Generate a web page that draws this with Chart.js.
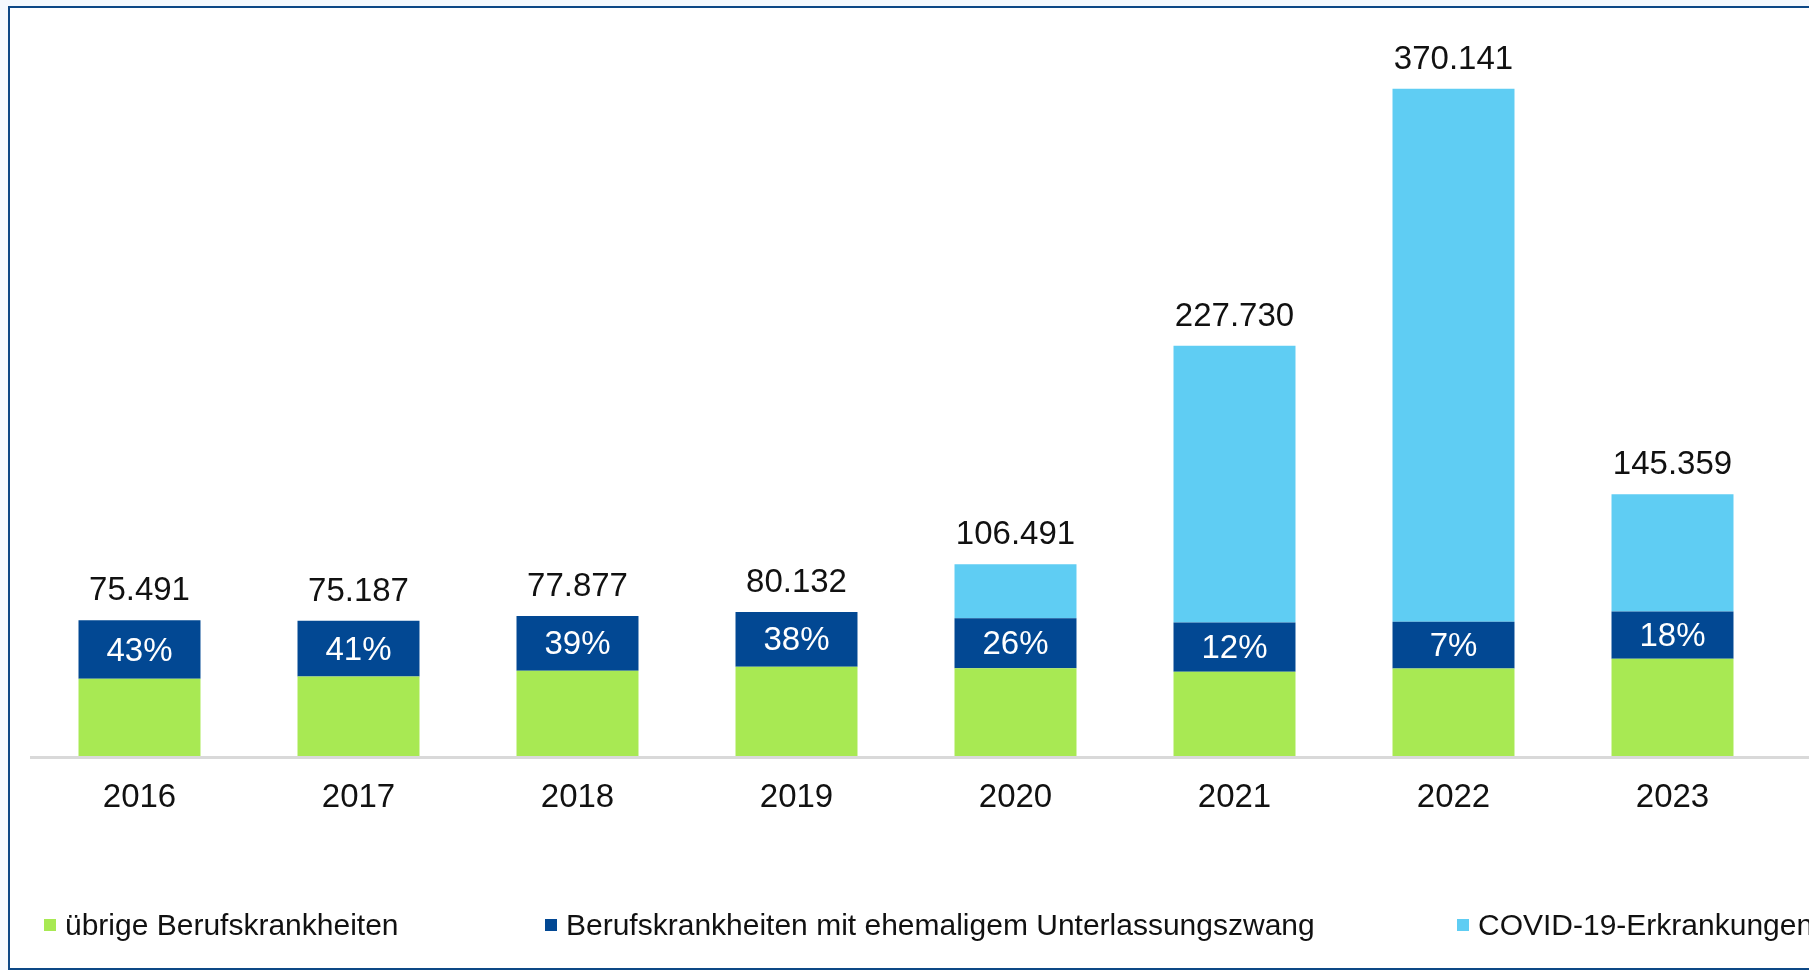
<!DOCTYPE html>
<html lang="de">
<head>
<meta charset="utf-8">
<title>Berufskrankheiten 2016-2023</title>
<script src="https://cdn.jsdelivr.net/npm/chart.js@4.4.1/dist/chart.umd.min.js"></script>
<style>
  html, body { margin: 0; padding: 0; }
  body { width: 1809px; height: 970px; overflow: hidden; background: #f4f9fe; position: relative;
         font-family: "Liberation Sans", Arial, sans-serif; }
  .frame { position: absolute; left: 8px; top: 6px; width: 1900px; height: 960px;
           border: 2px solid #0d4886; border-right: none; background: #fff; }
  #myChart { position: absolute; left: 0; top: 0; }
  .legend-item { position: absolute; top: 906px; font-size: 30px; color: #111; white-space: nowrap;
                 line-height: 38px; }
  .legend-item span.box { position: absolute; width: 12px; height: 12px; top: 13px; }
</style>
</head>
<body>
<div class="frame"></div>
<canvas id="myChart" width="1809" height="970"></canvas>
<div id="legend"></div>
<script>
// Data
const years = ['2016', '2017', '2018', '2019', '2020', '2021', '2022', '2023'];
const uebrige = [43030, 44360, 47505, 49682, 48930, 46930, 48760, 54130];
const ehemaligUZ = [32461, 30827, 30372, 30450, 27688, 27330, 25910, 26165];
const covid = [0, 0, 0, 0, 29873, 153470, 295471, 65064];

const seriesLabels = ['übrige Berufskrankheiten', 'Berufskrankheiten mit ehemaligem Unterlassungszwang', 'COVID-19-Erkrankungen'];
const colors = ['#a8e953', '#024893', '#5fcdf3'];
const legendX = [44, 545, 1457];

const fmt = n => String(n).replace(/\B(?=(\d{3})+(?!\d))/g, '.');

Chart.defaults.font.family = '"Liberation Sans", Arial, sans-serif';

// labels: totals above stacks, share of dark blue segment inside it
const labelPlugin = {
    id: 'stackLabels',
    afterDatasetsDraw(chart) {
        const ctx = chart.ctx;
        const metaTop = chart.getDatasetMeta(2);
        const metaMid = chart.getDatasetMeta(1);
        const yScale = chart.scales.y;
        ctx.save();
        ctx.font = '33px "Liberation Sans", Arial, sans-serif';
        ctx.textAlign = 'center';
        years.forEach((y, i) => {
            const total = uebrige[i] + ehemaligUZ[i] + covid[i];
            const x = metaTop.data[i].x;
            ctx.fillStyle = '#111';
            ctx.textBaseline = 'alphabetic';
            ctx.fillText(fmt(total), x, yScale.getPixelForValue(total) - 20);
            const bar = metaMid.data[i];
            ctx.fillStyle = '#fff';
            ctx.textBaseline = 'middle';
            const pct = Math.round(ehemaligUZ[i] / total * 100) + '%';
            ctx.fillText(pct, x, (bar.y + bar.base) / 2 + 2);
        });
        // base line, runs out to the right edge like the cropped original
        const y0 = yScale.getPixelForValue(0);
        ctx.strokeStyle = '#d9d9d9';
        ctx.lineWidth = 3;
        ctx.beginPath();
        ctx.moveTo(chart.chartArea.left, y0 + 1);
        ctx.lineTo(chart.width, y0 + 1);
        ctx.stroke();
        ctx.restore();
    }
};

const ctx = document.getElementById('myChart').getContext('2d');
new Chart(ctx, {
    type: 'bar',
    data: {
        labels: years,
        datasets: [
            { label: seriesLabels[0], data: uebrige, backgroundColor: colors[0] },
            { label: seriesLabels[1], data: ehemaligUZ, backgroundColor: colors[1] },
            { label: seriesLabels[2], data: covid, backgroundColor: colors[2] },
        ],
    },
    options: {
        responsive: false,
        animation: false,
        layout: { padding: { left: 30, right: 27, top: 35, bottom: 130 } },
        datasets: { bar: { categoryPercentage: 1, barPercentage: 0.557, borderWidth: 0 } },
        plugins: {
            legend: { display: false },
            tooltip: { enabled: false },
        },
        scales: {
            x: {
                stacked: true,
                grid: { display: false, drawTicks: false },
                border: { display: false },
                ticks: { color: '#111', font: { size: 33 }, padding: 22 },
            },
            y: {
                stacked: true,
                display: false,
                min: 0,
                max: 400000,
            },
        },
    },
    plugins: [labelPlugin],
});

// legend as html, spaced like the original
const legend = document.getElementById('legend');
seriesLabels.forEach((name, i) => {
    const item = document.createElement('div');
    item.className = 'legend-item';
    item.style.left = legendX[i] + 'px';
    item.style.paddingLeft = '21px';
    item.innerHTML = '<span class="box" style="left:0;background:' + colors[i] + '"></span>' + name;
    legend.appendChild(item);
});
</script>
</body>
</html>
